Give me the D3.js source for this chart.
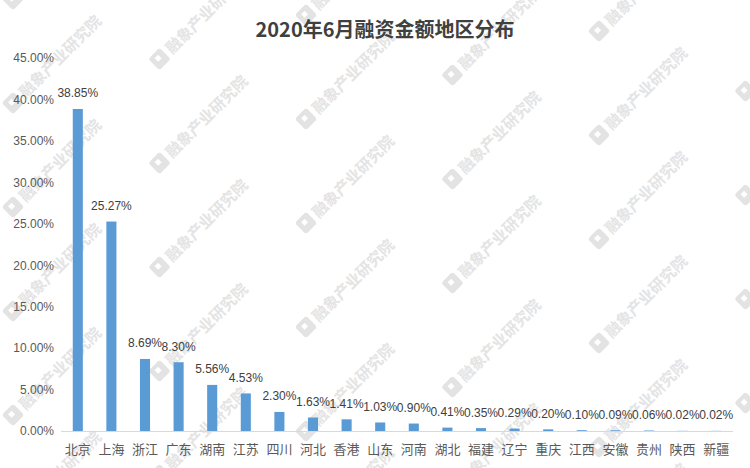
<!DOCTYPE html>
<html><head><meta charset="utf-8">
<script src="https://cdn.jsdelivr.net/npm/d3@7"></script>
<style>body{margin:0;background:#fff}svg{display:block}</style>
</head><body>
<script>
const categories = ["北京","上海","浙江","广东","湖南","江苏","四川","河北","香港","山东","河南","湖北","福建","辽宁","重庆","江西","安徽","贵州","陕西","新疆"];
const values = [38.85,25.27,8.69,8.30,5.56,4.53,2.30,1.63,1.41,1.03,0.90,0.41,0.35,0.29,0.20,0.10,0.09,0.06,0.02,0.02];
const yTicks = [0,5,10,15,20,25,30,35,40,45];
const title = "2020年6月融资金额地区分布";
const watermark = "融象产业研究院";

const W=750,H=468;
const svg=d3.select("body").append("svg").attr("width",W).attr("height",H);
svg.append("rect").attr("width",W).attr("height",H).attr("fill","#fff");

// watermarks
const wm=svg.append("g");
for(let i=-1;i<7;i++){
  for(let j=-2;j<7;j++){
    const lx=13+146.5*i, ly=207-44*i+104*j;
    if(lx<-150||lx>W+20||ly<-20||ly>H+150) continue;
    const g=wm.append("g").attr("transform",`translate(${lx},${ly}) rotate(-45)`);
    g.append("rect").attr("x",-8).attr("y",-8).attr("width",16).attr("height",16).attr("rx",3).attr("fill","#e3e3e3");
    g.append("rect").attr("x",-3).attr("y",-4).attr("width",5).attr("height",5).attr("fill","#fff");
    g.append("text").attr("x",12).attr("y",6).attr("font-family","Noto Sans CJK SC").attr("font-weight","bold")
      .attr("font-size",15.5).attr("fill","#e4e4e4").text(watermark);
  }
}

const x=d3.scaleBand().domain(categories).range([61,733]).paddingInner(0.7).paddingOuter(0.35);
const y=d3.scaleLinear().domain([0,45]).range([431,58]);

// title
svg.append("text").attr("x",385).attr("y",37).attr("text-anchor","middle")
  .attr("font-family","Noto Sans CJK SC, Noto Sans").attr("font-weight","bold").attr("font-size",20)
  .attr("fill","#404040").text(title);

// y axis labels
const yAxis=d3.axisLeft(y).tickValues(yTicks).tickFormat(d=>d.toFixed(2)+"%").tickSize(0).tickPadding(0);
const ya=svg.append("g").attr("transform","translate(54,0)").call(yAxis);
ya.select(".domain").remove();
ya.selectAll("text").attr("font-family","Liberation Sans, Arial").attr("font-size",12).attr("fill","#595959");

// bars
svg.append("g").selectAll("rect").data(values).join("rect")
  .attr("x",(d,i)=>x(categories[i])).attr("width",x.bandwidth())
  .attr("y",d=>y(d)).attr("height",d=>y(0)-y(d)).attr("fill","#5B9BD5");

// x axis
const xAxis=d3.axisBottom(x).tickSize(0).tickPadding(0);
const xa=svg.append("g").attr("transform","translate(0,431)").call(xAxis);
xa.select(".domain").attr("stroke","#d9d9d9").attr("d","M61,0.5H733");
xa.selectAll("text").attr("dy",null).attr("y",23).attr("font-family","Noto Sans CJK SC").attr("font-size",13).attr("fill","#595959");

// data labels
svg.append("g").selectAll("text").data(values).join("text")
  .attr("x",(d,i)=>x(categories[i])+x.bandwidth()/2).attr("y",d=>y(d)-11.5)
  .attr("text-anchor","middle").attr("font-family","Liberation Sans, Arial").attr("font-size",12)
  .attr("fill","#404040").text(d=>d.toFixed(2)+"%");
</script>
</body></html>
